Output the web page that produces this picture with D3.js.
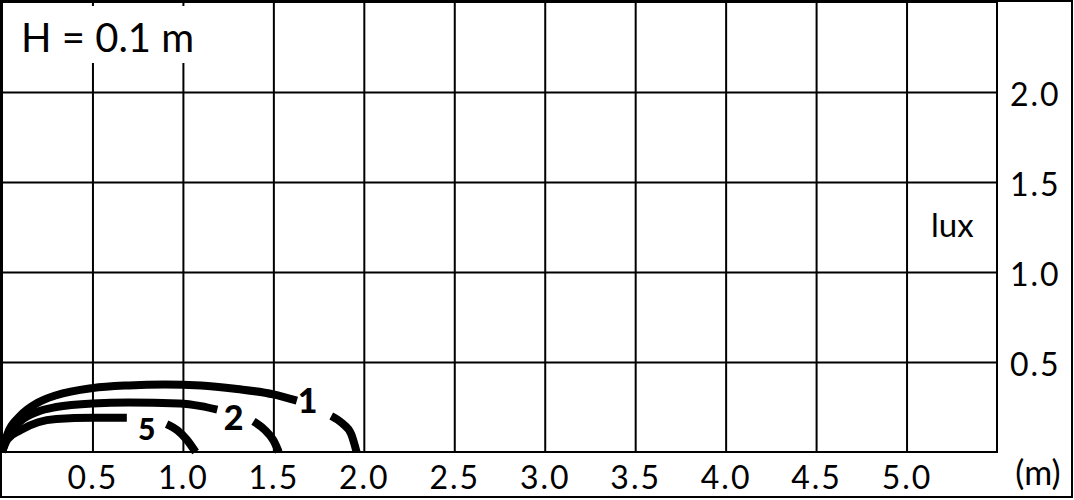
<!DOCTYPE html>
<html>
<head>
<meta charset="utf-8">
<script src="https://cdn.jsdelivr.net/npm/d3@7"></script>
<style>
    body { margin: 0; background: #fff; }
    svg, svg text { font-family: Lato, "DejaVu Sans", sans-serif; }
    .grid line { stroke: #000; stroke-width: 2; }
    .grid .domain { display: none; }
    .grid text { fill: #000; font-size: 32px; letter-spacing: 2px; }
</style>
</head>
<body>
<div id="chart"></div>
<script>
    /****** data ******/
    var xTicks = [0.5, 1.0, 1.5, 2.0, 2.5, 3.0, 3.5, 4.0, 4.5, 5.0];
    var yTicks = [0.5, 1.0, 1.5, 2.0];
    var seriesNames = ["1", "2", "5"];
    // distance (m), illuminance (lux); null = gap for the label
    var curve1 = [[0, 0], [0.03, 0.1], [0.1, 0.2], [0.2, 0.275], [0.3, 0.315], [0.5, 0.355],
        [0.7, 0.37], [0.9, 0.375], [1.1, 0.37], [1.3, 0.35], [1.5, 0.32], [1.63, 0.285],
        null, [1.82, 0.2], [1.88, 0.16], [1.93, 0.1], [1.96, 0]];
    var curve2 = [[0, 0], [0.03, 0.09], [0.1, 0.17], [0.2, 0.225], [0.3, 0.25], [0.5, 0.27],
        [0.7, 0.275], [0.98, 0.27], [1.1, 0.255], [1.19, 0.235],
        null, [1.39, 0.17], [1.45, 0.125], [1.5, 0.065], [1.53, 0]];
    var curve5 = [[0, 0], [0.03, 0.07], [0.1, 0.12], [0.2, 0.165], [0.3, 0.183], [0.5, 0.19],
        [0.69, 0.19], null, [0.91, 0.155], [0.97, 0.12], [1.02, 0.07], [1.07, 0]];
    var curves = [curve1, curve2, curve5];
    // label anchor points (m, lux) - baseline of the number
    var labelPos = [[1.69, 0.215], [1.28, 0.125], [0.8, 0.068]];

    var w = 1074, h = 500;
    var padL = 2, padR = 997, padT = 2, padB = 452;

    var svg = d3.select("#chart").append("svg")
        .attr("width", w)
        .attr("height", h);

    var x = d3.scaleLinear().domain([0, 5.5]).range([padL, padR]);
    var y = d3.scaleLinear().domain([0, 2.5]).range([padB, padT]);

    // outer frame
    svg.append("rect")
        .attr("x", 1).attr("y", 1)
        .attr("width", 1071).attr("height", 496)
        .attr("fill", "none").attr("stroke", "#000").attr("stroke-width", 2);

    // grid + tick labels
    svg.append("g")
        .attr("class", "grid")
        .attr("transform", "translate(0," + padB + ")")
        .call(d3.axisBottom(x).tickValues(xTicks).tickSize(-(padB - padT))
            .tickPadding(14).tickFormat(d3.format(".1f")));
    svg.append("g")
        .attr("class", "grid")
        .attr("transform", "translate(" + padR + ",0)")
        .call(d3.axisRight(y).tickValues(yTicks).tickSize(-(padR - padL))
            .tickPadding(13).tickFormat(d3.format(".1f")))
        .selectAll("text").attr("dy", "0.42em");

    // plot frame
    svg.append("rect")
        .attr("x", padL).attr("y", padT)
        .attr("width", padR - padL).attr("height", padB - padT)
        .attr("fill", "none").attr("stroke", "#000").attr("stroke-width", 2);

    // axis units
    svg.append("text")
        .attr("x", 931).attr("y", 237)
        .attr("font-size", "33px")
        .text("lux");
    svg.append("text")
        .attr("x", 1038).attr("y", 485)
        .attr("text-anchor", "middle")
        .attr("font-size", "34px")
        .text("(m)");

    // title box
    svg.append("rect")
        .attr("x", 8).attr("y", 6)
        .attr("width", 194).attr("height", 57)
        .attr("fill", "#fff");
    svg.append("text")
        .attr("x", 21).attr("y", 52)
        .attr("font-size", "40px")
        .text("H = 0.1 m");

    // curves
    var line = d3.line()
        .defined(function(d) { return d !== null; })
        .x(function(d) { return x(d[0]); })
        .y(function(d) { return y(d[1]); })
        .curve(d3.curveMonotoneX);
    svg.selectAll("path.curve")
        .data(curves)
        .enter()
        .append("path")
        .attr("class", "curve")
        .attr("d", line)
        .attr("fill", "none")
        .attr("stroke", "#000")
        .attr("stroke-width", 8)
        .attr("stroke-linecap", "butt");

    svg.selectAll("text.lbl")
        .data(seriesNames)
        .enter()
        .append("text")
        .attr("class", "lbl")
        .attr("x", function(d, i) { return x(labelPos[i][0]); })
        .attr("y", function(d, i) { return y(labelPos[i][1]); })
        .attr("text-anchor", "middle")
        .attr("font-size", function(d) { return d === "5" ? "30px" : "34px"; })
        .attr("font-weight", "900")
        .text(function(d) { return d; });
</script>
</body>
</html>
